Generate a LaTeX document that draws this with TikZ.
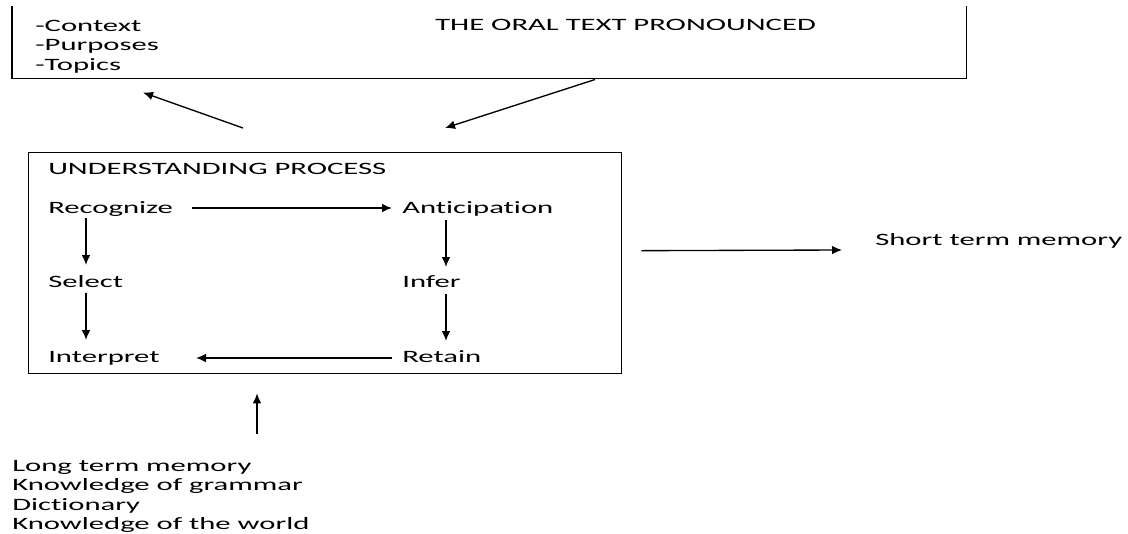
\documentclass[tikz,border=0pt]{standalone}
\usepackage{fontspec}
\setmainfont{Carlito}[FakeStretch=1.77, Ligatures=NoCommon]
\usetikzlibrary{arrows.meta}
\begin{document}
\begin{tikzpicture}[x=0.75pt,y=-0.75pt,
  font=\fontsize{13}{14.6}\selectfont,
  lbl/.style={anchor=base west, inner sep=0pt},
  arr/.style={-{Latex[length=7.5pt,width=6.5pt]}, line width=1pt},
  frame/.style={draw, line width=1pt, inner sep=0pt, anchor=north west}]
\useasboundingbox (0,0) rectangle (1128,533);
% top box (top edge outside the picture)
\node[inner sep=0pt, anchor=north west, minimum width=715.5pt, minimum height=54pt] (top) at (12,6) {};
\draw[line width=1pt] (top.north west) -- (top.south west) -- (top.south east) -- (top.north east);
\node[lbl] (ctx) at (35,31) {-Context};
\node[lbl] (pur) at (35,50) {-Purposes};
\node[lbl] (tpc) at (35,70) {-Topics};
\node[lbl] (oral) at (435,30) {THE ORAL TEXT PRONOUNCED};
% understanding box
\node[frame, minimum width=444.75pt, minimum height=165.75pt] (ub) at (28,152) {};
\node[lbl] (up) at (48,174) {UNDERSTANDING PROCESS};
\node[lbl] (rec) at (48,213) {Recognize};
\node[lbl] (ant) at (402,213) {Anticipation};
\node[lbl] (sel) at (48,287) {Select};
\node[lbl] (inf) at (402,287) {Infer};
\node[lbl] (int) at (48,362) {Interpret};
\node[lbl] (ret) at (402,362) {Retain};
\node[lbl] (stm) at (875,245) {Short term memory};
\node[lbl] (ltm) at (12,471) {Long term memory};
\node[lbl] (kg) at (12,490.5) {Knowledge of grammar};
\node[lbl] (dic) at (12,510) {Dictionary};
\node[lbl] (kw) at (12,529.5) {Knowledge of the world};
% connectors
\draw[arr] ([shift={(215,-24)}]ub.north west) -- ([shift={(131,14)}]top.south west);
\draw[arr] ([shift={(583,1)}]top.south west) -- ([shift={(417,-24)}]ub.north west);
\draw[arr] ([shift={(144,-5)}]rec.base west) -- ([shift={(-10,-5)}]ant.base west);
\draw[arr] ([shift={(38,5)}]rec.base west) -- ([shift={(38,-22)}]sel.base west);
\draw[arr] ([shift={(38,6)}]sel.base west) -- ([shift={(38,-22)}]int.base west);
\draw[arr] ([shift={(44,7)}]ant.base west) -- ([shift={(44,-20)}]inf.base west);
\draw[arr] ([shift={(44,7)}]inf.base west) -- ([shift={(44,-21)}]ret.base west);
\draw[arr] ([shift={(-10,-4)}]ret.base west) -- ([shift={(148,-4)}]int.base west);
\draw[arr] ([shift={(19,-12.5)}]ub.east) -- ([shift={(-33,5)}]stm.base west);
\draw[arr] ([shift={(245,-37)}]ltm.base west) -- ([shift={(229,19)}]ub.south west);
\end{tikzpicture}
\end{document}
